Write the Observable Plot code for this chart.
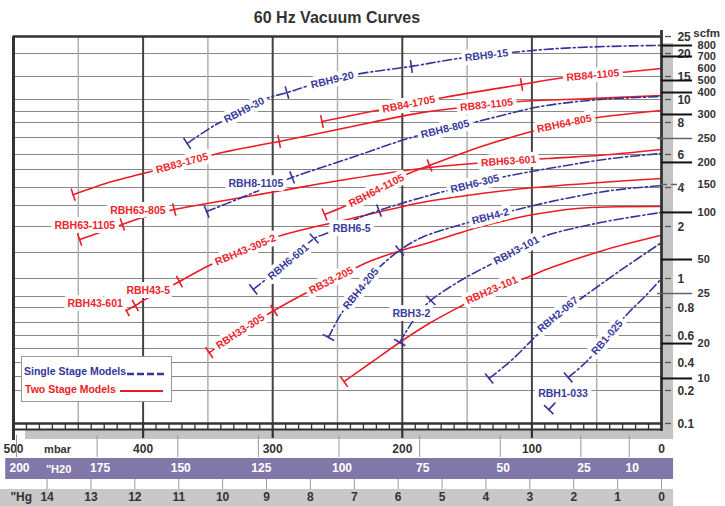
<!DOCTYPE html>
<html><head><meta charset="utf-8">
<script src="https://cdn.jsdelivr.net/npm/d3@7"></script>
<script src="https://cdn.jsdelivr.net/npm/@observablehq/plot@0.6"></script>
<style>
body{margin:0;background:#fff;font-family:"Liberation Sans",Arial,sans-serif;}
#wrap{position:relative;width:725px;height:506px;overflow:hidden;}
#title{position:absolute;left:0;width:674px;top:9px;line-height:18px;text-align:center;font-weight:bold;font-size:16px;color:#333;}
#legend{position:absolute;left:21px;top:356px;width:151px;height:46px;border:1px solid #999;background:#fff;box-sizing:border-box;font-weight:bold;font-size:10.5px;}
#legend div{position:absolute;white-space:nowrap;line-height:13px;}
#legend svg{position:absolute;}
</style></head>
<body>
<div id="wrap">
<div id="chart"></div>
<div id="title">60 Hz Vacuum Curves</div>
<div id="legend">
 <div style="left:2px;top:8px;color:#33359b">Single Stage Models</div>
 <svg style="left:105px;top:15px" width="40" height="4"><line x1="0" y1="2" x2="37" y2="2" stroke="#33359b" stroke-width="2.5" stroke-dasharray="7,3"/></svg>
 <div style="left:3px;top:26px;color:#ec1c24">Two Stage Models</div>
 <svg style="left:98px;top:32px" width="46" height="4"><line x1="0" y1="2" x2="43" y2="2" stroke="#ec1c24" stroke-width="2"/></svg>
</div>
</div>
<script>
// ---------- scales (mbar on x, flow on the inner right axis on y) ----------
const xDomain = [500, 0];
const xRange = [13, 661];
const yDomain = [0.1,0.2,0.3,0.4,0.5,0.6,0.7,0.8,0.9,1,1.5,2,3,4,5,6,7,8,9,10,15,20,25];
const yRange  = [423,390,376,362,348,335,322,307,296,278,252,226,205,187,169,154,137,122,111,99,76,53,36];

// ---------- axis / tick labels ----------
const gridFlows = [20,15,10,9,8,7,6,5,4,3,2,1.5,1,0.9,0.8,0.7,0.6,0.5,0.4,0.3,0.2];
const majorMbar = [400,300,200,100];
const minorMbar = [450,350,250,150,50];
const mbarLabels = [500,400,300,200,100,0];
const innerTickLabels = [25,20,15,10,8,6,4,2,1,0.8,0.6,0.4,0.2,0.1];
const scfmLabels = ["800","700","600","500","400","300","250","200","150","100","50","25","20","10"];
const scfmFlows  = [22.35,19.35,16.74,14.13,11.52,8.73,6.94,5.47,4.17,2.67,1.365,0.917,0.538,0.286];
const h2oLabels = [200,175,150,125,100,75,50,25,10];
const hgLabels = [14,13,12,11,10,9,8,7,6,5,4,3,2,1,0];

// ---------- curves: [mbar, flow] ----------
const RBH9  = [[366,6.65],[345,7.8],[324,9],[305,10.2],[289,11.5],[272,13],[237,15.4],[193,17.2],[157,18.9],[116,20.3],[78,21.5],[39,22.1],[0,22.4]];
const RBH8  = [[351,2.71],[324,3.44],[305,4],[285,4.56],[239,5.8],[193,7],[162,7.67],[142,8.09],[93,9.42],[47,10],[0,10.65]];
const RBH6  = [[315,0.94],[306,0.99],[285,1.38],[268,1.77],[257,1.88],[238,2.29],[218,2.76],[193,3.28],[165,3.83],[124,4.56],[78,5.2],[39,5.73],[0,6.06]];
const RBH4  = [[257,0.585],[247,0.76],[232,0.944],[218,1.21],[202,1.54],[185,1.79],[152,2.14],[132,2.48],[108,2.86],[78,3.33],[39,3.83],[0,4.11]];
const RBH3  = [[202,0.546],[197,0.631],[187,0.767],[178,0.864],[155,0.989],[129,1.31],[112,1.54],[93,1.79],[47,2.19],[0,2.67]];
const RBH2  = [[133,0.286],[116,0.414],[95,0.615],[80,0.753],[61,0.891],[32,1.15],[0,1.69]];
const RB1   = [[72,0.293],[57,0.414],[42,0.585],[26,0.76],[12,0.906],[0,1]];
const RBH1  = [[87,0.142],[81,0.167]];
const RB84  = [[262,8.09],[224,9],[168,10.43],[108,13.26],[80,14.57],[39,15.65],[0,16.74]];
const RB83  = [[454,3.6],[424,4.33],[397,4.83],[339,6.12],[295,6.76],[261,7.33],[224,8],[185,8.9],[147,9.42],[110,9.83],[55,10.2],[0,10.87]];
const RBH64 = [[260,2.57],[245,2.95],[220,3.83],[195,4.78],[179,5.27],[139,6.47],[103,7.33],[78,7.87],[49,8.45],[0,9.08]];
const RBH63 = [[449,1.75],[434,1.88],[416,2.1],[403,2.38],[376,2.81],[355,3.06],[293,3.83],[239,4.5],[185,5.07],[145,5.4],[88,5.73],[39,6],[0,6.29]];
const RBH43 = [[413,0.78],[406,0.818],[401,0.855],[372,0.983],[349,1.25],[320,1.56],[293,1.83],[239,2.38],[185,3.17],[139,3.67],[98,4],[47,4.28],[0,4.5]];
const RB33  = [[349,0.471],[324,0.638],[299,0.78],[278,0.906],[255,0.989],[229,1.29],[201,1.54],[185,1.65],[139,2],[103,2.52],[65,2.86],[0,2.95]];
const RBH23 = [[245,0.264],[224,0.4],[201,0.554],[178,0.7],[151,0.836],[132,0.933],[106,1],[85,1.21],[45,1.54],[0,1.83]];

const curves = [
  {name:"RBH9",  stage:"single", pts:RBH9,  ticks:[366,289,193]},
  {name:"RBH8",  stage:"single", pts:RBH8,  ticks:[351,285]},
  {name:"RBH6",  stage:"single", pts:RBH6,  ticks:[315,268,218]},
  {name:"RBH4",  stage:"single", pts:RBH4,  ticks:[257,202]},
  {name:"RBH3",  stage:"single", pts:RBH3,  ticks:[202,178]},
  {name:"RBH2",  stage:"single", pts:RBH2,  ticks:[133]},
  {name:"RB1",   stage:"single", pts:RB1,   ticks:[72]},
  {name:"RBH1",  stage:"single", pts:RBH1,  ticks:[87]},
  {name:"RB84",  stage:"two", pts:RB84,  ticks:[262,108]},
  {name:"RB83",  stage:"two", pts:RB83,  ticks:[454,295]},
  {name:"RBH64", stage:"two", pts:RBH64, ticks:[260,179]},
  {name:"RBH63", stage:"two", pts:RBH63, ticks:[449,416,376]},
  {name:"RBH43", stage:"two", pts:RBH43, ticks:[413,406,372]},
  {name:"RB33",  stage:"two", pts:RB33,  ticks:[349,299]},
  {name:"RBH23", stage:"two", pts:RBH23, ticks:[245]}
];

// labels that sit on a curve: [text, curve, mbar]
const curveLabels = [
  ["RBH9-30","RBH9",322],["RBH9-20","RBH9",254],["RBH9-15","RBH9",135],
  ["RB83-1705","RB83",370],["RB83-1105","RB83",135],
  ["RB84-1705","RB84",195],["RB84-1105","RB84",53],
  ["RBH64-1105","RBH64",220],["RBH64-805","RBH64",75],
  ["RBH63-601","RBH63",118],
  ["RBH43-305-2","RBH43",321],
  ["RB33-205","RB33",255],["RBH33-305","RB33",325],
  ["RBH23-101","RBH23",131],
  ["RBH8-805","RBH8",167],
  ["RBH6-601","RBH6",288],["RBH6-305","RBH6",144],
  ["RBH4-205","RBH4",232],["RBH4-2","RBH4",132],
  ["RBH3-101","RBH3",112],
  ["RBH2-067","RBH2",80],
  ["RB1-025","RB1",42]
];
// free (horizontal) labels: [text, stage, mbar, flow]
const freeLabels = [
  ["RBH63-1105","two",445,2.05],["RBH63-805","two",404,2.76],
  ["RBH43-601","two",437,0.836],["RBH43-5","two",396,0.933],
  ["RBH8-1105","single",313,4.22],["RBH6-5","single",239,1.96],
  ["RBH3-2","single",193,0.76],["RBH1-033","single",76,0.191]
];

// ---------- derived tables ----------
const BLUE = "#33359b", RED = "#ec1c24", BLUE_T = "#393b9a", RED_T = "#ec262e";
const xs = d3.scaleLinear(xDomain, xRange);
const ys = d3.scaleLinear(yDomain, yRange);   // piecewise flow scale
const byName = Object.fromEntries(curves.map(c => [c.name, c]));

function locate(pts, m) {
  let i = 0;
  while (i < pts.length - 2 && m < pts[i+1][0]) i++;
  const [m0,f0] = pts[i], [m1,f1] = pts[i+1];
  const x0 = xs(m0), y0 = ys(f0), x1 = xs(m1), y1 = ys(f1);
  const t = (xs(m) - x0) / (x1 - x0);
  return {px: x0 + t*(x1-x0), py: y0 + t*(y1-y0), a: Math.atan2(y1-y0, x1-x0)};
}

const rows = curves.flatMap(c => c.pts.map(([m,f]) => ({name:c.name, stage:c.stage, m, f})));

const tickRows = curves.flatMap(c => c.ticks.map(m => {
  const p = locate(c.pts, m), h = 6.5;
  const nx = -Math.sin(p.a), ny = Math.cos(p.a);
  return {stage:c.stage,
    x1: xs.invert(p.px - h*nx), y1: ys.invert(p.py - h*ny),
    x2: xs.invert(p.px + h*nx), y2: ys.invert(p.py + h*ny)};
}));

const labelRows = [
  ...curveLabels.map(([text, name, m]) => {
    const c = byName[name], pts = c.pts;
    const p = locate(pts, m);
    const a = locate(pts, Math.min(m + 14, pts[0][0]));
    const b = locate(pts, Math.max(m - 14, pts[pts.length-1][0]));
    return {text, stage:c.stage, m, f: ys.invert(p.py),
      rotate: Math.atan2(b.py - a.py, b.px - a.px) * 180 / Math.PI};
  }),
  ...freeLabels.map(([text, stage, m, f]) => ({text, stage, m, f, rotate: 0}))
];

const innerRows = innerTickLabels.map(v => ({v}));
const scfmRows = scfmLabels.map((label, i) => ({label, f: scfmFlows[i]}));
const minorTicks = d3.range(10, 500, 10).filter(v => v % 100 !== 0);
const FONT = "'Liberation Sans', Arial, sans-serif";
const yPix = [ys(yDomain[0]), ys(yDomain[yDomain.length-1])];
const band = {frameAnchor: "top", lineAnchor: "middle", fontWeight: "bold"};

const chart = Plot.plot({
  width: 725, height: 506,
  marginTop: 0, marginRight: 0, marginBottom: 0, marginLeft: 0,
  x: {domain: xDomain, range: xRange, axis: null},
  y: {transform: v => ys(v), domain: yPix, range: yPix, axis: null},
  style: {fontFamily: FONT, background: "white", overflow: "visible"},
  marks: [
    // grey strips on right and bottom
    Plot.rect([0], {x1: 0, x2: -9.3, insetTop: 43, insetBottom: 506-439, fill: "#c4c4c4"}),
    Plot.rect([0], {x1: 490.7, x2: -9.3, insetTop: 430, insetBottom: 506-439, fill: "#c4c4c4"}),
    // grid
    Plot.ruleY(gridFlows, {x1: 500, x2: 0, stroke: "#888", strokeWidth: 1}),
    Plot.ruleX(minorMbar, {y1: 0.1, y2: 25, stroke: "#aaa", strokeWidth: 1.4}),
    Plot.ruleX(majorMbar, {y1: 0.1, y2: 25, stroke: "#444", strokeWidth: 2}),
    // curves
    Plot.line(rows.filter(d => d.stage === "two"), {x: "m", y: "f", z: "name", stroke: RED, strokeWidth: 1.6, curve: "catmull-rom"}),
    Plot.line(rows.filter(d => d.stage === "single"), {x: "m", y: "f", z: "name", stroke: BLUE, strokeWidth: 1.6, strokeDasharray: "9,3,2,3", curve: "catmull-rom"}),
    Plot.link(tickRows, {x1: "x1", y1: "y1", x2: "x2", y2: "y2", stroke: d => d.stage === "two" ? RED : BLUE, strokeWidth: 1.6}),
    // labels with white backing
    Plot.text(labelRows, {x: "m", y: "f", text: "text", rotate: "rotate", fontSize: 10.5, fontWeight: "bold",
      fill: "white", stroke: "white", strokeWidth: 8, strokeLinejoin: "round"}),
    Plot.text(labelRows, {x: "m", y: "f", text: "text", rotate: "rotate", fontSize: 10.5, fontWeight: "bold",
      fill: d => d.stage === "two" ? RED_T : BLUE_T}),
    // frame
    Plot.ruleY([25], {x1: 500, x2: 0, stroke: "#333", strokeWidth: 2.5}),
    Plot.ruleY([0.1], {x1: 500, x2: 0, stroke: "#333", strokeWidth: 2.5}),
    Plot.rect([0], {x1: 500, x2: 0, insetTop: 428.5, insetBottom: 506-430.5, fill: "#333"}),
    Plot.ruleX(minorTicks, {insetTop: 423, insetBottom: 506-429, stroke: "#333", strokeWidth: 1.3}),
    Plot.ruleX(majorMbar, {insetTop: 423, insetBottom: 506-438, stroke: "#333", strokeWidth: 2.2}),
    Plot.ruleX([500], {insetTop: 36, insetBottom: 506-440, stroke: "#333", strokeWidth: 3}),
    Plot.ruleX([0], {insetTop: 30, insetBottom: 506-431, stroke: "#333", strokeWidth: 2.8}),
    // inner right axis
    Plot.ruleY(innerRows, {y: "v", x1: -3.1, x2: -7.7, stroke: "#555", strokeWidth: 1.3}),
    Plot.text(innerRows, {y: "v", x: -12.3, text: d => String(d.v), textAnchor: "start", fontSize: 12, fontWeight: "bold", fill: "#333", dy: 1}),
    // scfm axis
    Plot.ruleY(scfmRows.filter(d => !["600","250","150","25"].includes(d.label)), {y: "f", x1: 0, x2: -24, stroke: "#111", strokeWidth: 2}),
    Plot.ruleY(scfmRows.filter(d => ["250","25"].includes(d.label)), {y: "f", x1: 3, x2: -24, stroke: "#5c6470", strokeWidth: 1.6}),
    Plot.ruleY(scfmRows.filter(d => d.label === "150"), {y: "f", x1: 0, x2: -18, stroke: "#5c6470", strokeWidth: 1.6, strokeDasharray: "6,4"}),
    Plot.text(scfmRows, {y: "f", x: -27.8, text: "label", textAnchor: "start", fontSize: 11, fontWeight: "bold", fill: "#333"}),
    Plot.text(["scfm"], {...band, x: -24.5, dy: 33, text: d => d, textAnchor: "start", fontSize: 11.5, fill: "#333"}),
    // mbar row
    Plot.text(mbarLabels, {...band, x: d => d, dy: 449, text: d => String(d), fontSize: 12, fill: "#333"}),
    Plot.text(["mbar"], {...band, x: 466, dy: 449, text: d => d, fontSize: 11, fill: "#333"}),
    Plot.ruleX(h2oLabels, {x: d => d * 2.4884, insetTop: 435, insetBottom: 506-457, stroke: "#999", strokeWidth: 1}),
    // inches of water band
    Plot.rect([0], {x1: 506, x2: -9.3, insetTop: 458, insetBottom: 506-479, fill: "#8177a8"}),
    Plot.text(h2oLabels, {...band, x: d => d * 2.4884, dx: 3, dy: 468, text: d => String(d), fontSize: 12, fill: "white"}),
    Plot.text(['"H20'], {...band, x: 475, dy: 469, text: d => d, textAnchor: "start", fontSize: 11, fill: "white"}),
    Plot.ruleX(hgLabels, {x: d => d * 33.864, insetTop: 479, insetBottom: 506-489, stroke: "#999", strokeWidth: 1}),
    // inches of mercury band
    Plot.rect([0], {x1: 510, x2: -9.3, insetTop: 489, insetBottom: 0, fill: "#c8c8c8"}),
    Plot.text(hgLabels, {...band, x: d => d * 33.864, dy: 497, text: d => String(d), fontSize: 12, fill: "#333"}),
    Plot.text(['"Hg'], {...band, x: 494, dy: 497, text: d => d, fontSize: 12, fill: "#333"})
  ]
});
document.getElementById("chart").appendChild(chart);
</script>
</body></html>
